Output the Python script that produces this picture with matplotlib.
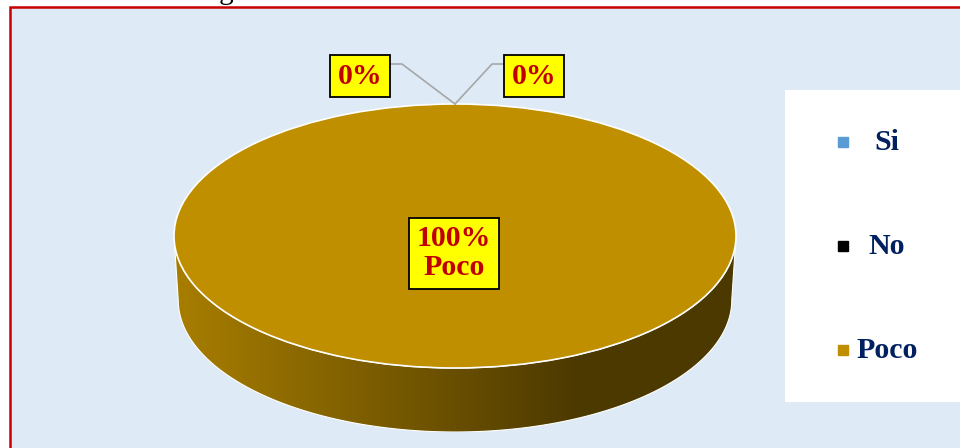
import numpy as np
import matplotlib
matplotlib.use("Agg")
import matplotlib.pyplot as plt
from matplotlib.patches import Rectangle, Polygon

# data
categories = ["Si", "No", "Poco"]
values = [0, 0, 100]
colors = ["#5B9BD5", "#000000", "#BF8F00"]
title = "Conocimiento de gestión de calidad"

W, H = 960, 448
SERIF = ["Liberation Serif", "DejaVu Serif"]

# pie geometry in pixels (ellipse centre, radii, side depth)
CX, CY, RX, RY, DEPTH = 455, 236, 281, 132, 64
D = DEPTH / RY

fig = plt.figure(figsize=(W / 100, H / 100), dpi=100)

# background frame in pixel coordinates
ax = fig.add_axes([0, 0, 1, 1])
ax.set_xlim(0, W)
ax.set_ylim(H, 0)
ax.axis("off")
ax.add_patch(Rectangle((10, 7), 1000, 500, facecolor="#DEEAF6",
                       edgecolor="#C80000", lw=1.8))
ax.text(12, -1, title, fontsize=21, family=SERIF, va="baseline", ha="left",
        color="black")

# pie axes: x -1..1, y -1-D..1
pax = fig.add_axes([(CX - RX) / W, 1 - (CY + RY + DEPTH) / H,
                    2 * RX / W, (2 * RY + DEPTH) / H])

total = float(sum(values))
fracs = [v / total for v in values]

# side walls of the cylinder (front half only), drawn before the top
start = 90.0
shrink = 0.985
for frac, col in zip(fracs, colors):
    a1 = start - 360 * frac  # clockwise
    start = a1
    if frac == 0:
        continue
    lo, hi = a1 % 360, (a1 % 360) + 360 * frac
    segs = []
    for base in (0, 360):
        s, e = max(lo, 180 + base), min(hi, 360 + base)
        if e > s:
            segs.append((s, e))
    for s, e in segs:
        t = np.radians(np.linspace(s, e, 200))
        top = np.column_stack([np.cos(t), np.sin(t)])
        bot = np.column_stack([shrink * np.cos(t), np.sin(t) - D])[::-1]
        poly = Polygon(np.vstack([top, bot]), closed=True, facecolor="none",
                       edgecolor="white", lw=0.8, zorder=1)
        pax.add_patch(poly)
        # shading from light left to dark right
        base_rgb = np.array(matplotlib.colors.to_rgb(col))
        xs = np.linspace(0, 1, 256)
        k = np.clip(xs / 0.72, 0, 1)
        fac = 0.88 + (0.40 - 0.88) * k
        grad = (base_rgb[None, :] * fac[:, None])[None, :, :]
        im = pax.imshow(grad, extent=(-1, 1, -1 - D, 0.01), aspect="auto",
                        interpolation="bilinear", zorder=0.9)
        im.set_clip_path(poly)

wedges, _ = pax.pie(values, colors=colors, startangle=90, counterclock=False,
                    radius=1,
                    wedgeprops=dict(edgecolor="white", linewidth=1.2))
for w in wedges:
    w.set_zorder(2)
pax.set_aspect("auto")
pax.set_xlim(-1, 1)
pax.set_ylim(-1 - D, 1)
pax.axis("off")

# overlay for labels and legend, pixel coordinates
ox = fig.add_axes([0, 0, 1, 1])
ox.set_xlim(0, W)
ox.set_ylim(H, 0)
ox.axis("off")


def to_px(x, y):
    return CX + RX * x, CY - RY * y


box = dict(boxstyle="square,pad=0.25", facecolor="#FFFF00", edgecolor="black",
           lw=1.3)
label_kw = dict(fontsize=21.5, family=SERIF, fontweight="bold",
                color="#C00000", ha="center", va="center", linespacing=1.1)

# label placement for empty slices (pixel offset of box centre)
outside = [(-95, -28), (79, -28)]
start = 90.0
k_out = 0
for cat, val, frac in zip(categories, values, fracs):
    mid = np.radians(start - 180 * frac)
    start -= 360 * frac
    pct = f"{val / total * 100:.0f}%"
    if frac > 0:
        px, py = to_px(0.13 * np.cos(mid), 0.13 * np.sin(mid))
        ox.text(px - 1, py, f"{pct}\n{cat}", bbox=box, **label_kw)
    else:
        ax_, ay_ = to_px(np.cos(mid), np.sin(mid))
        dx, dy = outside[k_out]
        k_out += 1
        bx, by = ax_ + dx, ay_ + dy
        edge = bx + (31 if dx < 0 else -31)
        elbow = edge + (11 if dx < 0 else -11)
        ox.plot([ax_, elbow, edge], [ay_, by - 12, by - 12], color="#A6A6A6",
                lw=1.2, zorder=3)
        ox.text(bx, by, pct, bbox=box, zorder=4, **label_kw)

# legend
ox.add_patch(Rectangle((785, 90), 200, 312, facecolor="white",
                       edgecolor="none", zorder=2))
for i, (cat, col) in enumerate(zip(categories, colors)):
    y = 142 + 104 * i
    ox.plot(843, y, marker="s", markersize=6.5, color=col, zorder=3)
    ox.text(887, y, cat, fontsize=21.5, family=SERIF, fontweight="bold",
            color="#002060", ha="center", va="center", zorder=3)

fig.savefig("out.png", dpi=100)
